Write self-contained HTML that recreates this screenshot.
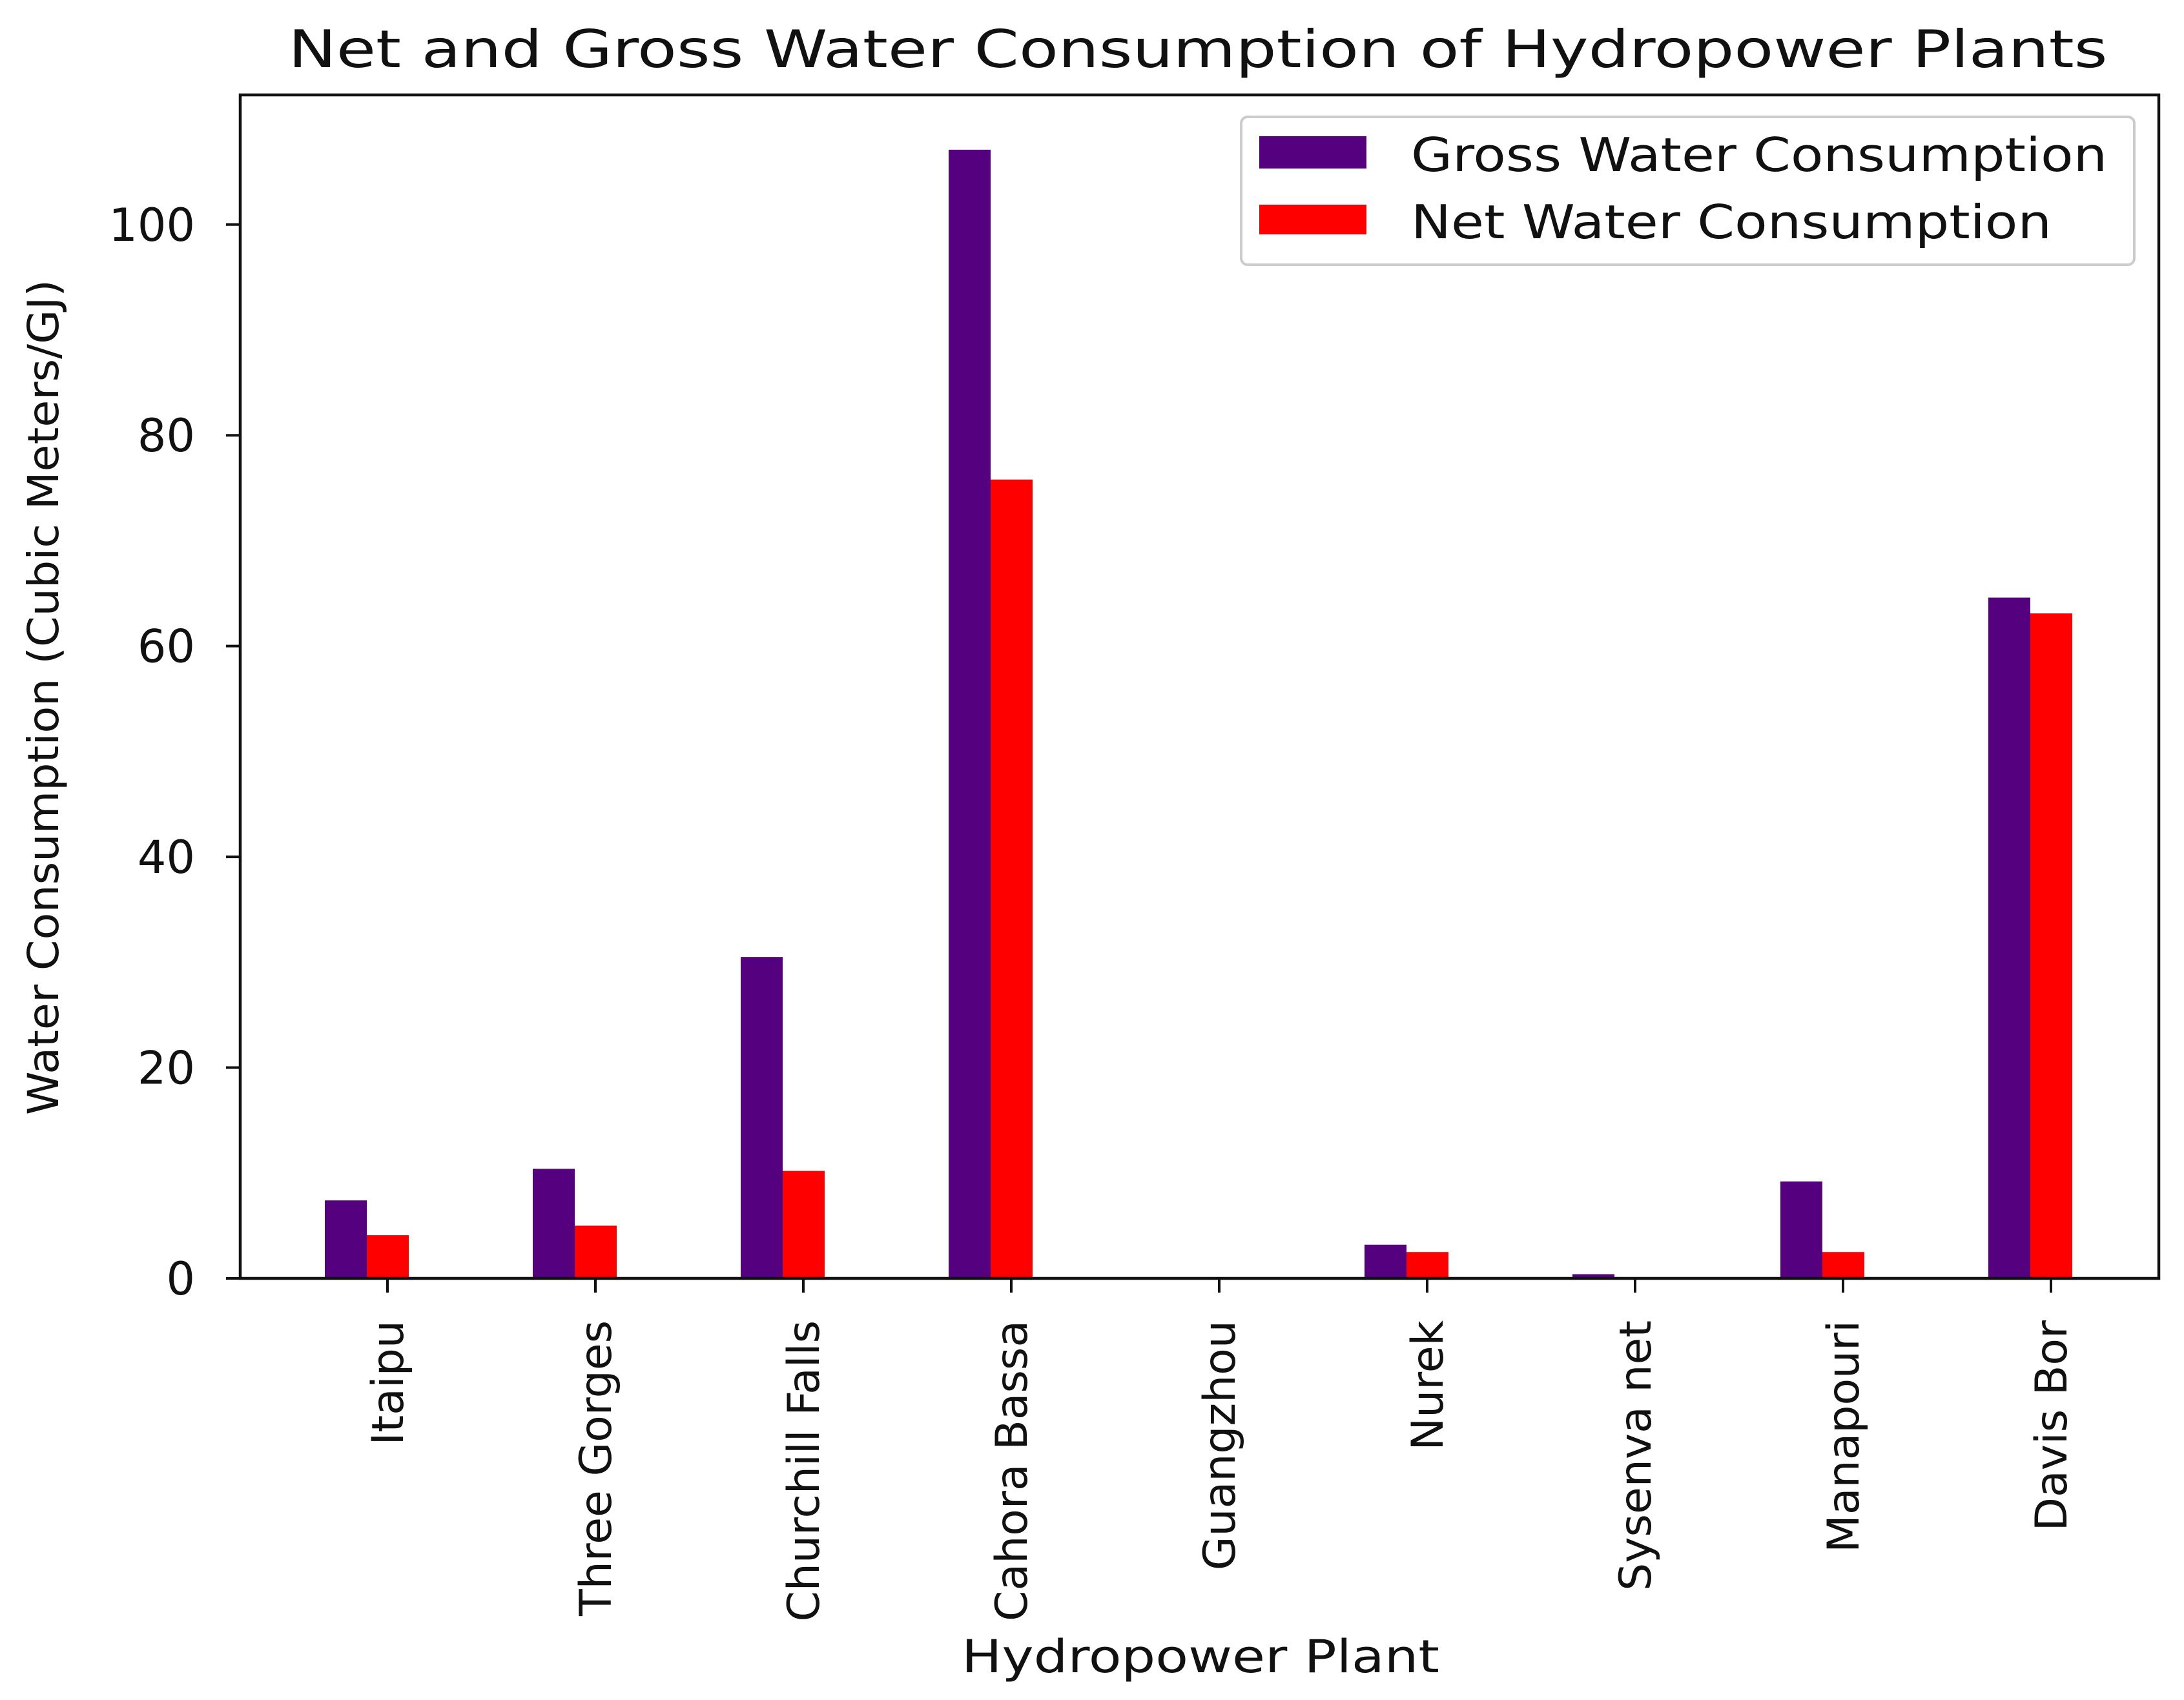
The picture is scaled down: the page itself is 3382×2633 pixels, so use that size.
<!DOCTYPE html>
<html><head><meta charset="utf-8"><style>html,body{margin:0;padding:0;background:#fff}svg{display:block}</style></head>
<body>
<svg id="chart" width="3382" height="2633" viewBox="0 0 3382 2633" xmlns="http://www.w3.org/2000/svg" font-family="'DejaVu Sans','Liberation Sans',sans-serif">
<rect width="3382" height="2633" fill="#fff"/>
<text x="1855" y="104" font-size="80" text-anchor="middle" textLength="2817" lengthAdjust="spacingAndGlyphs" fill="#111">Net and Gross Water Consumption of Hydropower Plants</text>
<g id="bars"></g>
<g id="axes"></g>
<text transform="translate(90,1080) rotate(-90)" font-size="66" text-anchor="middle" textLength="1294" lengthAdjust="spacingAndGlyphs" fill="#111">Water Consumption (Cubic Meters/GJ)</text>
<text x="1859" y="2590" font-size="70" text-anchor="middle" textLength="740" lengthAdjust="spacingAndGlyphs" fill="#111">Hydropower Plant</text>
<g>
<rect x="1922" y="181" width="1383" height="229" rx="10" fill="#fff" stroke="#ccc" stroke-width="4"/>
<rect x="1950" y="211" width="166" height="50" fill="#55007f"/>
<text x="2185" y="265" font-size="72" textLength="1078" lengthAdjust="spacingAndGlyphs" fill="#111">Gross Water Consumption</text>
<rect x="1950" y="317" width="166" height="46" fill="#ff0000"/>
<text x="2185" y="369" font-size="72" textLength="992" lengthAdjust="spacingAndGlyphs" fill="#111">Net Water Consumption</text>
</g>
</svg>
<script>
const categories = ["Itaipu","Three Gorges","Churchill Falls","Cahora Bassa","Guangzhou","Nurek","Sysenva net","Manapouri","Davis Bor"];
const grossValues = [7.4, 10.4, 30.5, 107.1, 0, 3.2, 0.4, 9.2, 64.6];
const netValues = [4.1, 5.0, 10.2, 75.8, 0, 2.5, 0, 2.5, 63.1];
const yTicks = [0, 20, 40, 60, 80, 100];

const NS = "http://www.w3.org/2000/svg";
const L = 372, R = 3343, T = 147, B = 1980, YMAX = 112.3;
const x0 = 600, step = 322, bw = 65;
function xPos(i){ return x0 + i*step; }
function yPos(v){ return B - v/YMAX*(B-T); }
function mk(tag, attrs){ const e=document.createElementNS(NS,tag); for(const k in attrs) e.setAttribute(k,attrs[k]); return e; }
const bars = document.getElementById('bars');
const axes = document.getElementById('axes');
categories.forEach((c,i)=>{
  const t = xPos(i);
  const g = mk('rect',{x:t-32-bw,y:yPos(grossValues[i]),width:bw,height:B-yPos(grossValues[i]),fill:'#55007f'});
  
  
  bars.appendChild(g);
  const n = mk('rect',{x:t-32,y:yPos(netValues[i]),width:bw,height:B-yPos(netValues[i]),fill:'#ff0000'});
  
  
  bars.appendChild(n);
  const tk = mk('line',{x1:t,x2:t,y1:B,y2:B+22,stroke:'#111','stroke-width':4});
  
  
  axes.appendChild(tk);
  const lb = mk('text',{transform:`translate(${t+24},2045) rotate(-90)`,'font-size':68,'text-anchor':'end',fill:'#111'});
  lb.textContent = c;
  
  
  axes.appendChild(lb);
});
yTicks.forEach(v=>{
  const y = yPos(v);
  const tk = mk('line',{x1:L-22,x2:L,y1:y,y2:y,stroke:'#111','stroke-width':4});
  
  
  axes.appendChild(tk);
  const lb = mk('text',{x:302,y:y+25,'font-size':70,'text-anchor':'end',fill:'#111'});
  lb.textContent = v;
  
  
  axes.appendChild(lb);
});
const frame = mk('rect',{x:L,y:T,width:R-L,height:B-T,fill:'none',stroke:'#111','stroke-width':4.5});


axes.appendChild(frame);
</script>
</body></html>
